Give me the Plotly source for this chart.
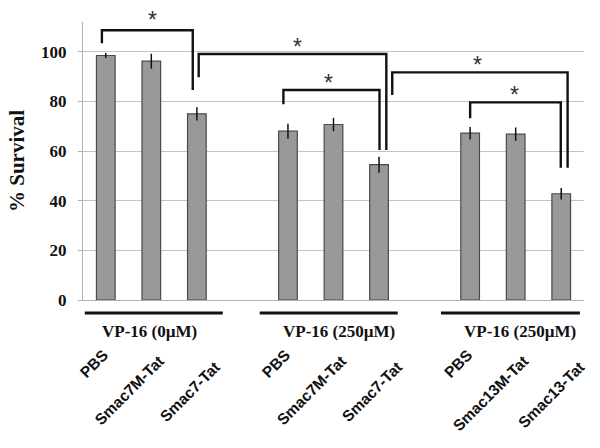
import plotly.graph_objects as go

# ---- data ----
categories = ["PBS", "Smac7M-Tat", "Smac7-Tat",
              "PBS", "Smac7M-Tat", "Smac7-Tat",
              "PBS", "Smac13M-Tat", "Smac13-Tat"]
slots = [0, 1, 2, 4, 5, 6, 8, 9, 10]          # category slots (gaps between groups)
survival = [98.5, 96.2, 75.0, 68.0, 70.7, 54.5, 67.2, 66.8, 42.8]
errors = [1.0, 3.0, 2.7, 3.0, 2.7, 3.2, 2.5, 2.7, 2.3]
group_labels = ["VP-16 (0\u00b5M)", "VP-16 (250\u00b5M)", "VP-16 (250\u00b5M)"]
y_ticks = [0, 20, 40, 60, 80, 100]

# significance brackets: (x_left, y_left_bottom, x_right, y_right_bottom, y_top)
brackets = [
    (-0.085, 103.4, 1.91, 84.6, 108.7),
    (2.04, 89.7, 6.16, 60.4, 99.1),
    (3.90, 78.9, 6.01, 60.4, 84.6),
    (6.29, 82.6, 10.14, 53.3, 91.7),
    (8.00, 73.2, 9.99, 53.3, 79.6),
]
stars = [(1.02, 114.8), (4.20, 104.0), (4.88, 89.3), (8.16, 96.7), (8.97, 84.6)]

XMIN, XMAX = -0.5, 10.5
YMAX = 112

fig = go.Figure()
fig.add_trace(go.Bar(
    x=slots, y=survival, width=0.41,
    marker=dict(color="#999999", line=dict(color="#4a4a4a", width=1.2)),
    error_y=dict(type="data", array=errors, visible=True, color="#111111",
                 thickness=1.5, width=0),
    showlegend=False,
))

shapes = []
for (xl, yl, xr, yr, yt) in brackets:
    shapes.append(dict(type="path", xref="x", yref="y",
                       path=f"M {xl},{yl} L {xl},{yt} L {xr},{yt} L {xr},{yr}",
                       line=dict(color="#111111", width=2.4)))

def px(c):
    return (c - XMIN) / (XMAX - XMIN)

group_spans = [(-0.46, 2.57), (3.38, 6.41), (7.36, 10.41)]
group_text_x = [0.96, 5.13, 9.10]
for (a, b) in group_spans:
    shapes.append(dict(type="line", xref="paper", yref="paper",
                       x0=px(a), x1=px(b), y0=-0.047, y1=-0.047,
                       line=dict(color="#111111", width=3)))

annotations = []
for gx, gl in zip(group_text_x, group_labels):
    annotations.append(dict(x=gx, y=0, xref="x", yref="y", yshift=-31,
                            text=gl, showarrow=False, xanchor="center", yanchor="middle",
                            font=dict(family="Liberation Serif", size=17, color="#111111",
                                      weight="bold")))

for sx, sy in stars:
    annotations.append(dict(x=sx, y=sy / YMAX, xref="x", yref="paper", yshift=-5,
                            text="*", showarrow=False, xanchor="center", yanchor="middle",
                            font=dict(family="Liberation Sans", size=23, color="#333333")))

# rotated category labels on three overlaid axes (one per position in group)
label_font = dict(family="Liberation Sans", size=15.5, color="#111111", weight="bold")
axis_extra = {}
for k in range(3):
    name = f"xaxis{k + 2}"
    vals = [slots[i] - 0.05 + 0.23 * k for i in range(len(slots)) if i % 3 == k]
    texts = [categories[i] for i in range(len(slots)) if i % 3 == k]
    axis_extra[name] = dict(overlaying="x", anchor="y", side="bottom",
                            range=[XMIN, XMAX], tickvals=vals, ticktext=texts,
                            tickangle=-45, ticks="", showgrid=False, zeroline=False,
                            showline=False, ticklabelstandoff=42 + 6 * k,
                            tickfont=label_font)
    fig.add_trace(go.Scatter(x=[], y=[], xaxis=f"x{k + 2}", yaxis="y",
                             showlegend=False, hoverinfo="skip"))

fig.update_layout(
    width=600, height=448,
    margin=dict(l=83, r=16, t=22, b=148),
    plot_bgcolor="white", paper_bgcolor="white",
    shapes=shapes, annotations=annotations,
    xaxis=dict(range=[XMIN, XMAX], showticklabels=False, showgrid=False,
               zeroline=False, showline=True, linecolor="#b0b0b0", linewidth=1.3,
               ticks=""),
    yaxis=dict(range=[0, YMAX], tickvals=y_ticks, showgrid=True,
               gridcolor="#c4c4c4", gridwidth=1.3, zeroline=False,
               showline=True, linecolor="#b0b0b0", linewidth=1.3,
               ticks="outside", ticklen=4, tickcolor="#b0b0b0",
               ticklabelstandoff=8,
               tickfont=dict(family="Liberation Serif", size=17, color="#111111",
                             weight="bold"),
               title=dict(text="% Survival", standoff=10,
                          font=dict(family="Liberation Serif", size=21,
                                    color="#111111", weight="bold"))),
    bargap=0.6,
    **axis_extra,
)

fig.write_html("out.html")
